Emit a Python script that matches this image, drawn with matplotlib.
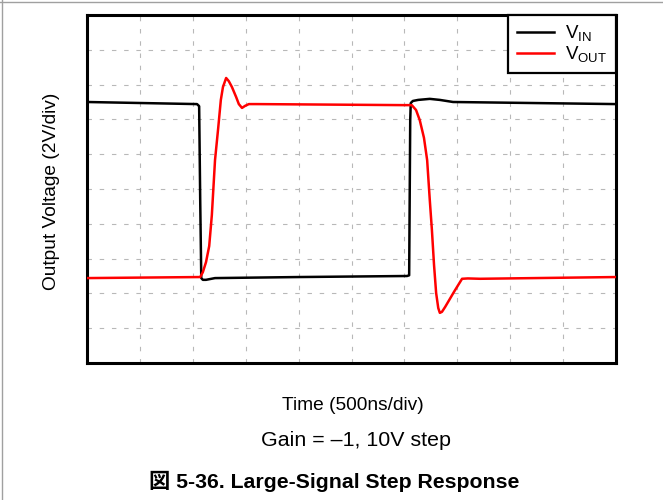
import matplotlib
matplotlib.use("Agg")
import matplotlib.pyplot as plt
from matplotlib.lines import Line2D

plt.rcParams['font.family'] = ['Liberation Sans', 'Noto Sans CJK JP', 'DejaVu Sans']
plt.rcParams['mathtext.fontset'] = 'custom'
plt.rcParams['mathtext.rm'] = 'Liberation Sans'

# Data in oscilloscope divisions (x: 500ns/div, y: 2V/div)
vin_t = [0.0, 2.08, 2.12, 2.14, 2.16, 2.19, 2.25, 2.42, 4.00, 6.05, 6.09, 6.11, 6.12,
         6.16, 6.26, 6.48, 6.67, 6.92, 10.0]
vin_v = [7.50, 7.44, 7.38, 4.68, 2.44, 2.39, 2.39, 2.44, 2.47, 2.50, 2.52, 6.98, 7.47,
         7.53, 7.56, 7.59, 7.56, 7.50, 7.44]

vout_t = [0.0, 2.14, 2.19, 2.25, 2.31, 2.36, 2.42, 2.48, 2.53, 2.57, 2.63, 2.68, 2.74,
          2.82, 2.87, 2.93, 2.99, 3.06, 3.20, 6.00, 6.14, 6.22, 6.29, 6.37, 6.43, 6.48,
          6.52, 6.56, 6.60, 6.64, 6.67, 6.71, 6.77, 6.94, 7.09, 7.20, 7.43, 10.0]
vout_v = [2.44, 2.47, 2.61, 2.90, 3.36, 4.25, 5.83, 6.75, 7.56, 7.93, 8.19, 8.10, 7.93,
          7.64, 7.44, 7.33, 7.39, 7.44, 7.44, 7.41, 7.41, 7.27, 6.98, 6.47, 5.83, 4.68,
          3.82, 2.82, 2.01, 1.58, 1.44, 1.47, 1.61, 2.05, 2.42, 2.43, 2.42, 2.47]

labels = [r'V$_{\mathregular{IN}}$', r'V$_{\mathregular{OUT}}$']
xlabel = 'Time (500ns/div)'
ylabel = 'Output Voltage (2V/div)'
subtitle = 'Gain = \u20131, 10V step'
caption = '図 5-36. Large-Signal Step Response'

fig = plt.figure(figsize=(6.63, 5.0), dpi=100)
ax = fig.add_axes([87/663, 137/500, 529/663, 348/500])

ax.plot(vin_t, vin_v, color='black', lw=1.8, label=labels[0], zorder=3,
        solid_joinstyle='round')
ax.plot(vout_t, vout_v, color='#ff0000', lw=1.8, label=labels[1], zorder=4,
        solid_joinstyle='round')

ax.set_xlim(0, 10)
ax.set_ylim(0, 10)
ax.set_xticks(range(0, 11))
ax.set_yticks(range(0, 11))
ax.tick_params(length=0, labelbottom=False, labelleft=False)
ax.grid(True, color='#b8b8b8', lw=0.8, linestyle=(0, (4, 7)))
for s in ax.spines.values():
    s.set_linewidth(2.2)
    s.set_color('black')

leg = ax.legend(loc='upper right', borderaxespad=0, fontsize=13.5, frameon=True,
                fancybox=False, handlelength=2.0, handletextpad=0.6,
                labelspacing=0.05, borderpad=0.45)
leg.get_frame().set_edgecolor('black')
leg.get_frame().set_linewidth(1.6)
leg.get_frame().set_alpha(1)

fig.text(52/663, 1 - 191/500, ylabel, rotation=90, ha='center', va='center', fontsize=13.8)
fig.text(353/663, 1 - 405/500, xlabel, ha='center', va='center', fontsize=13.8)
fig.text(356/663, 1 - 440/500, subtitle, ha='center', va='center', fontsize=15.4)
fig.text(334/663, 1 - 481/500, caption, ha='center', va='center', fontsize=15.3,
         fontweight='bold')

# page border lines
fig.add_artist(Line2D([0, 1], [1 - 1.5/500, 1 - 1.5/500], color='#a0a0a0', lw=1))
fig.add_artist(Line2D([1.5/663, 1.5/663], [0, 1], color='#a0a0a0', lw=1))

fig.savefig('out.png', dpi=100)
